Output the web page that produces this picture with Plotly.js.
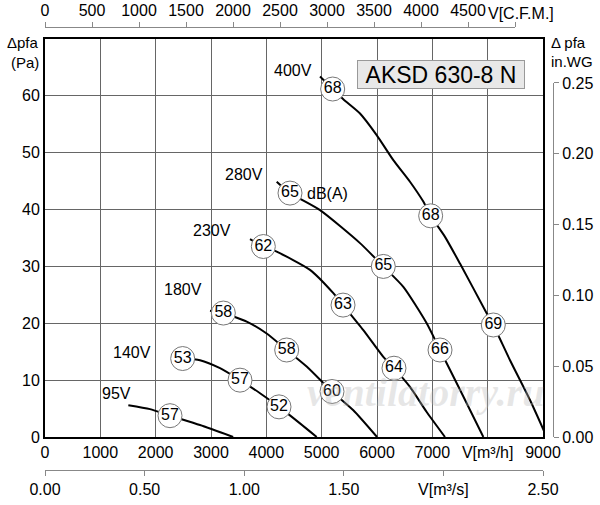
<!DOCTYPE html>
<html>
<head>
<meta charset="utf-8">
<script src="https://cdn.plot.ly/plotly-3.0.1.min.js"></script>
<style>
  html, body { margin: 0; padding: 0; background: #fff; }
  #plotDiv { width: 600px; height: 505px; }
</style>
</head>
<body>
<div id="plotDiv"></div>
<script>
// fan curves, air volume V [m3/h] vs pressure dpfa [Pa]
const v400X = [4970, 5199, 5391, 5693, 5994, 6295, 6596, 6837, 6970, 7229, 7500, 7970, 8102, 8404, 8765, 9067]
const v400Y = [63.4, 61.2, 59.4, 56.9, 53.1, 48.7, 44.9, 41.4, 38.9, 35.2, 30.5, 22.0, 19.7, 13.5, 6.5, 0]
const v280X = [4187, 4428, 4970, 5693, 6114, 6476, 6898, 7139, 7500, 7922]
const v280Y = [44.9, 42.9, 39.9, 34.1, 30.0, 26.4, 20.0, 15.3, 8.3, 0]
const v230X = [3705, 3946, 4187, 4789, 5211, 5386, 5753, 6114, 6307, 6596, 6898, 7229]
const v230Y = [34.8, 33.5, 32.6, 29.4, 25.3, 23.2, 18.8, 14.1, 12.1, 8.8, 4.4, 0]
const v180X = [2982, 3223, 3645, 4006, 4368, 4729, 5187, 5572, 6000]
const v180Y = [22.2, 21.8, 20.3, 18.2, 15.3, 12.4, 8.0, 4.7, 0]
const v140X = [2488, 2801, 3163, 3524, 3886, 4229, 4608, 4910]
const v140Y = [13.8, 13.5, 12.1, 10.0, 7.7, 5.3, 2.4, 0]
const v95X = [1506, 1898, 2259, 2801, 3400]
const v95Y = [5.6, 4.9, 3.75, 2.1, 0]

// noise level points dB(A)
const dbX = [5199, 6970, 8102, 4428, 6114, 7139, 3946, 5386, 6307, 3223, 4368, 5187, 2488, 3524, 4229, 2259]
const dbY = [61.2, 38.9, 19.7, 42.9, 30.0, 15.3, 33.5, 23.2, 12.1, 21.8, 15.3, 8.0, 13.8, 10.0, 5.3, 3.75]
const dbText = ['68', '68', '69', '65', '65', '66', '62', '63', '64', '58', '58', '60', '53', '57', '52', '57']

// voltage labels
const voltText = ['400V', '280V', '230V', '180V', '140V', '95V']
const voltX = [4482, 3596, 3018, 2494, 1572, 1301]
const voltY = [64.5, 46.1, 36.4, 25.9, 14.9, 7.7]

const mhTicks = [0, 1000, 2000, 3000, 4000, 5000, 6000, 7000, 8000, 9000]
const mhText = ['0', '1000', '2000', '3000', '4000', '5000', '6000', '7000', 'V[m³/h]', '9000']
const paTicks = [0, 10, 20, 30, 40, 50, 60]
const cfmTicks = [0, 500, 1000, 1500, 2000, 2500, 3000, 3500, 4000, 4500, 5000]
const cfmText = ['0', '500', '1000', '1500', '2000', '2500', '3000', '3500', '4000', '4500', '']
const msTicks = [0, 0.5, 1, 1.5, 2, 2.5]
const msText = ['0.00', '0.50', '1.00', '1.50', 'V[m³/s]', '2.50']
const wgTicks = [0, 0.05, 0.10, 0.15, 0.20, 0.25]

const FONT = 'Liberation Sans, Arial, sans-serif'

const curves = [[v400X, v400Y], [v280X, v280Y], [v230X, v230Y], [v180X, v180Y], [v140X, v140Y], [v95X, v95Y]]

const data = curves.map(c => ({
	x: c[0], y: c[1],
	type: 'scatter', mode: 'lines',
	line: {color: '#000', width: 2, shape: 'spline', smoothing: 0.6},
	hoverinfo: 'skip', showlegend: false
}))

data.push({
	x: dbX, y: dbY, text: dbText,
	type: 'scatter', mode: 'markers+text',
	textposition: 'middle center',
	textfont: {family: FONT, size: 16, color: '#000'},
	marker: {size: 24, color: '#fff', line: {color: '#777', width: 1}},
	cliponaxis: false,
	hoverinfo: 'skip', showlegend: false
})

// invisible traces so the secondary scales are drawn
data.push({x: [0], y: [0], xaxis: 'x2', yaxis: 'y2', mode: 'markers', marker: {opacity: 0}, hoverinfo: 'skip', showlegend: false})
data.push({x: [0], y: [0], xaxis: 'x3', yaxis: 'y2', mode: 'markers', marker: {opacity: 0}, hoverinfo: 'skip', showlegend: false})

const annotations = voltText.map((t, i) => ({
	x: voltX[i], y: voltY[i], xref: 'x', yref: 'y', text: t, showarrow: false,
	xanchor: 'center', yanchor: 'middle',
	font: {family: FONT, size: 16, color: '#000'}
}))

const corner = (x, y, text, xanchor, size) => ({
	x: x, y: y, xref: 'paper', yref: 'paper', text: text, showarrow: false,
	xanchor: xanchor, yanchor: 'middle',
	font: {family: FONT, size: size || 15, color: '#000'}
})

annotations.push(
	{x: 4699, y: 42.9, xref: 'x', yref: 'y', text: 'dB(A)', xanchor: 'left', yanchor: 'middle', showarrow: false,
		font: {family: FONT, size: 16, color: '#000'}},
	{x: 7157, y: 63.75, xref: 'x', yref: 'y', text: 'AKSD 630-8 N', showarrow: false,
		xanchor: 'center', yanchor: 'middle',
		width: 166, height: 27, borderpad: 0,
		bgcolor: '#e8e8e8', bordercolor: '#999', borderwidth: 1,
		font: {family: FONT, size: 23, color: '#000'}},
	corner(-0.008, 0.964, 'Δpfa', 'right'),
	corner(-0.008, 0.920, '(Pa)', 'right'),
	corner(0.992, 0.964, 'Δ pfa', 'left'),
	corner(0.992, 0.923, 'in.WG', 'left'),
	corner(0.8681, 1.0316, 'V[C.F.M.]', 'left', 16),
	{x: 6868, y: 7.9, xref: 'x', yref: 'y', text: '<b><i>ventilatorry.ru</i></b>', showarrow: false,
		xanchor: 'center', yanchor: 'middle',
		font: {family: 'Liberation Serif, serif', size: 40, color: 'rgba(185,185,185,0.35)'}}
)

const tickFont = {family: FONT, size: 16, color: '#000'}

const layout = {
	width: 600, height: 505,
	margin: {l: 45, r: 47, t: 27, b: 35, pad: 0},
	paper_bgcolor: '#fff',
	plot_bgcolor: 'rgba(0,0,0,0)',
	font: {family: FONT, size: 16, color: '#000'},
	xaxis: {
		domain: [0, 0.98031], range: [0, 9000], anchor: 'y',
		tickvals: mhTicks, ticktext: mhText, tickfont: tickFont, ticks: '', tickangle: 0,
		showgrid: true, gridcolor: '#666', gridwidth: 1,
		showline: true, linecolor: '#000', linewidth: 2, mirror: true,
		zeroline: false, fixedrange: true
	},
	yaxis: {
		domain: [0.07449, 0.97291], range: [0, 70], anchor: 'x',
		tickvals: paTicks, tickfont: tickFont, ticks: '',
		showgrid: true, gridcolor: '#666', gridwidth: 1,
		showline: true, linecolor: '#000', linewidth: 2, mirror: true,
		zeroline: false, fixedrange: true
	},
	xaxis2: {
		domain: [0, 0.92520], range: [0, 5000], anchor: 'free', position: 1, side: 'top',
		tickvals: cfmTicks, ticktext: cfmText, tickfont: tickFont, tickangle: 0,
		ticks: 'outside', ticklen: 5, tickcolor: '#888',
		showgrid: false, showline: true, linecolor: '#888', linewidth: 1,
		zeroline: false, fixedrange: true
	},
	xaxis3: {
		domain: [0, 0.98031], range: [0, 2.5], anchor: 'free', position: 0, side: 'bottom',
		tickvals: msTicks, ticktext: msText, tickfont: tickFont, tickangle: 0,
		ticks: 'outside', ticklen: 5, tickcolor: '#888',
		showgrid: false, showline: true, linecolor: '#888', linewidth: 1,
		zeroline: false, fixedrange: true
	},
	yaxis2: {
		domain: [0.07449, 0.8736], range: [0, 0.25], anchor: 'free', position: 1, side: 'right',
		tickvals: wgTicks, tickformat: '.2f', tickfont: tickFont,
		ticks: 'outside', ticklen: 5, tickcolor: '#888',
		showgrid: false, showline: true, linecolor: '#888', linewidth: 1,
		zeroline: false, fixedrange: true
	},
	annotations: annotations
}

const config = {displayModeBar: false, staticPlot: true}
Plotly.newPlot('plotDiv', data, layout, config)
</script>
</body>
</html>
